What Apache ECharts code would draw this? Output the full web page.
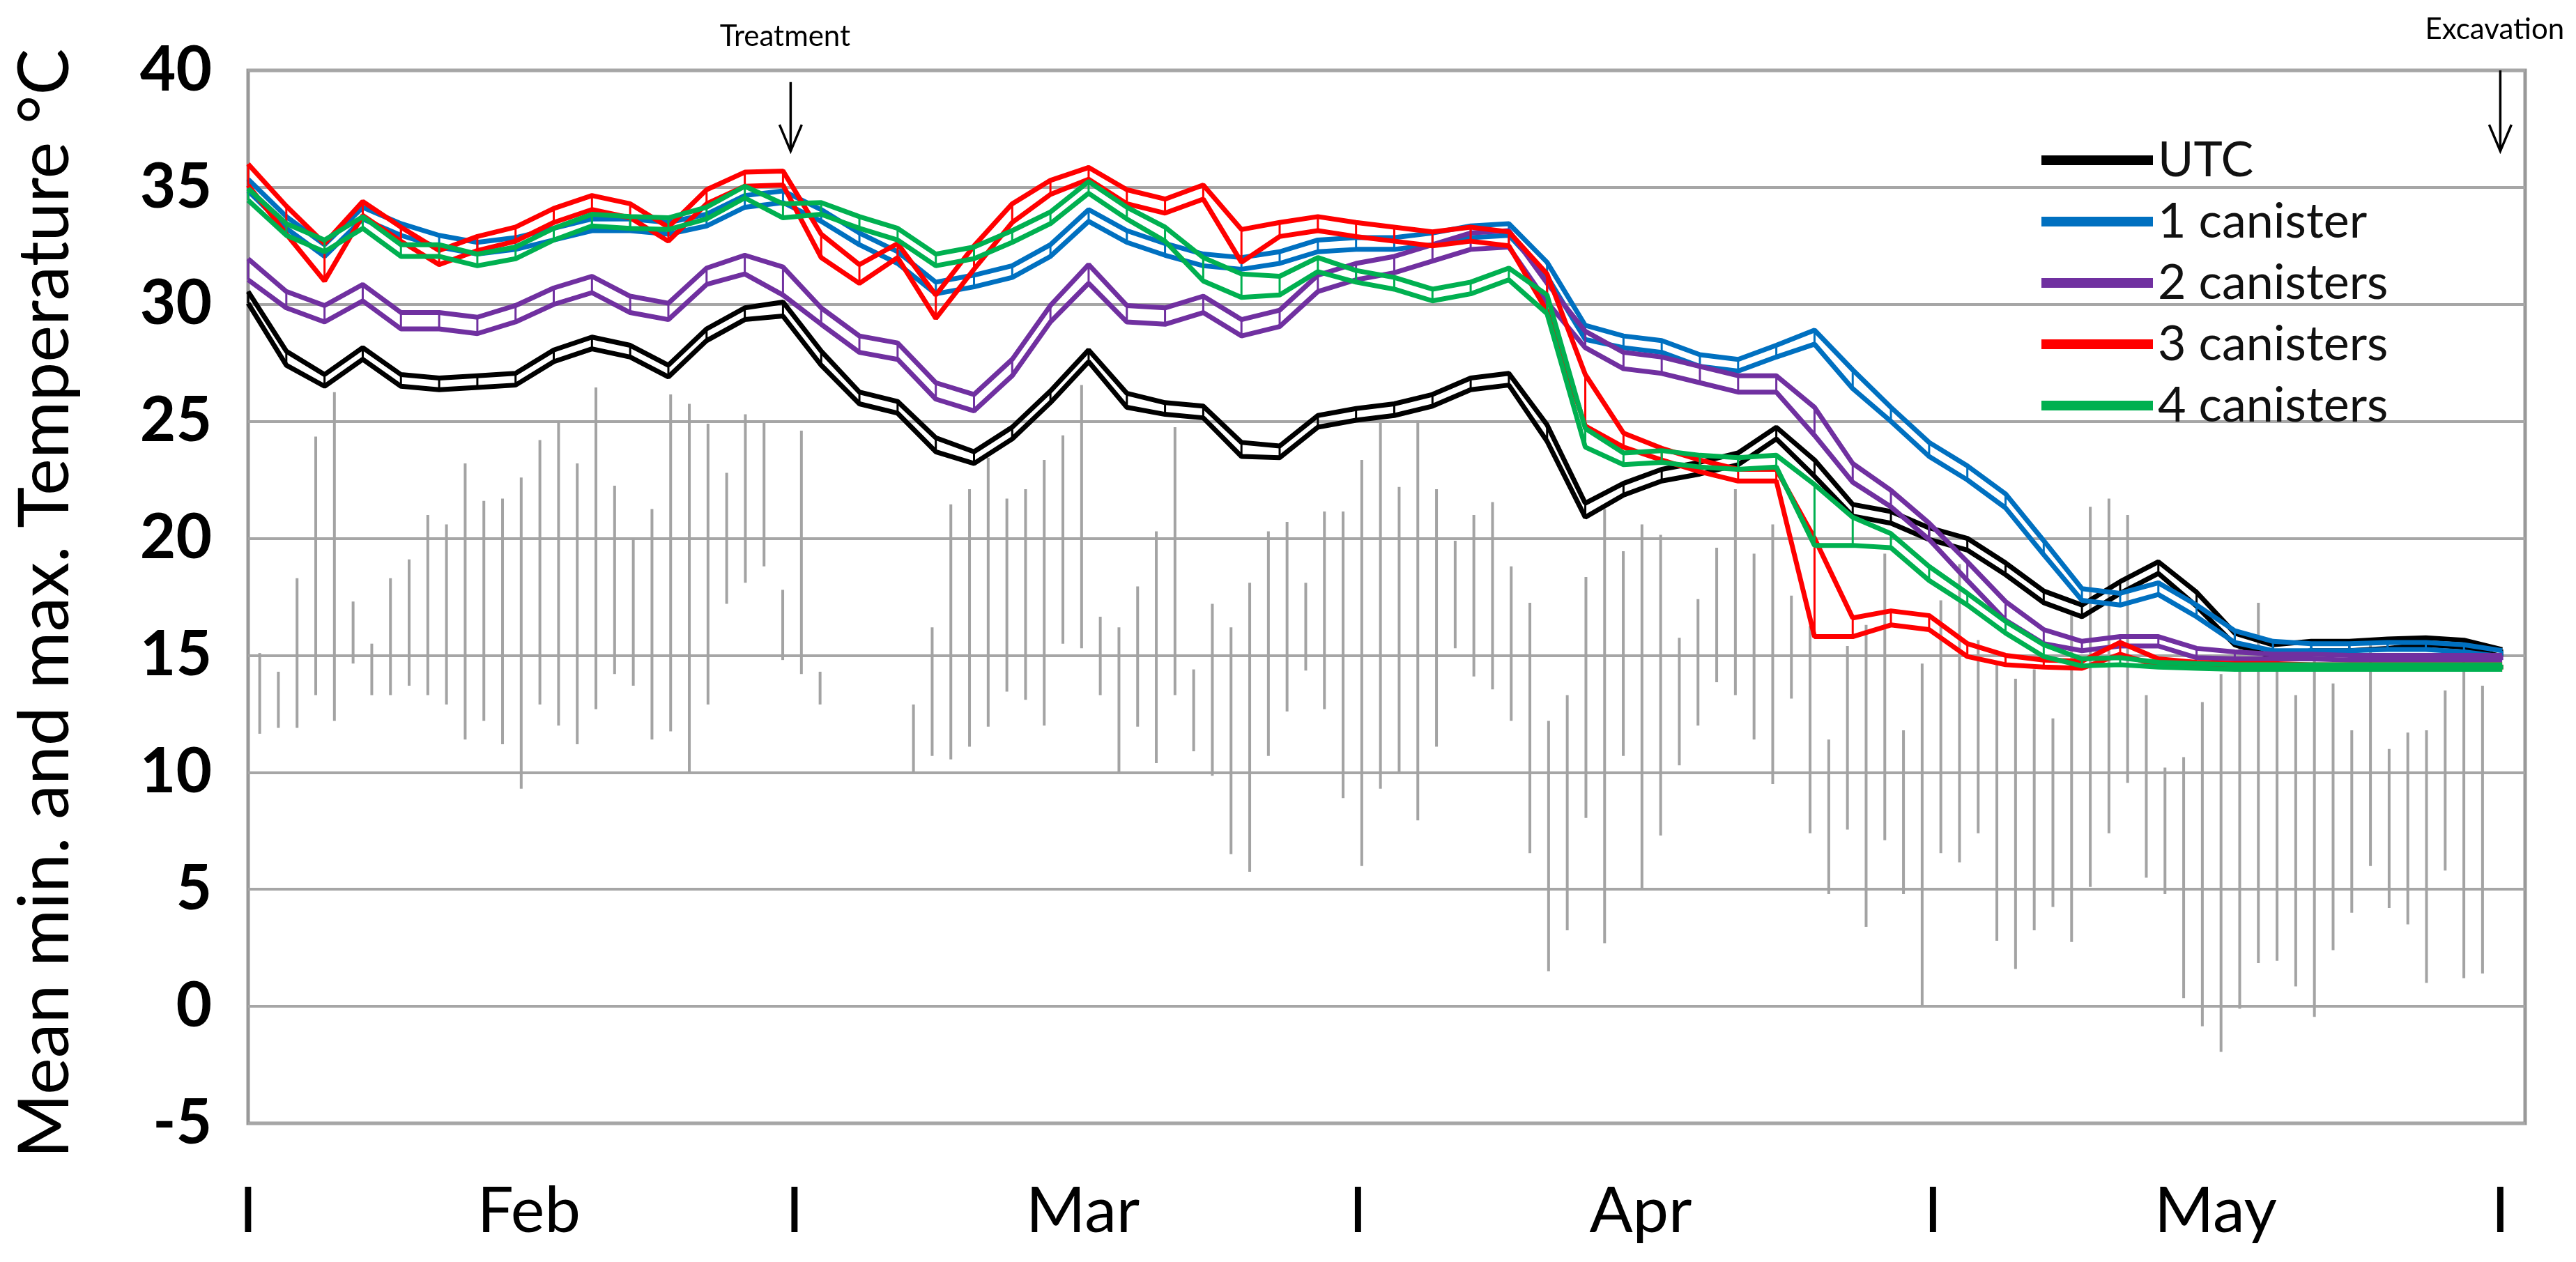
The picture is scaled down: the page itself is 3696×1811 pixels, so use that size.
<!DOCTYPE html>
<html><head><meta charset="utf-8">
<script src="https://cdn.jsdelivr.net/npm/echarts@6/dist/echarts.min.js"></script>
<style>html,body{margin:0;padding:0;background:#fff;}#c{width:3696px;height:1811px;}</style>
</head><body><div id="c"></div>
<script>
// ---------- DATA ----------
const lineDays = [0,2,4,6,8,10,12,14,16,18,20,22,24,26,28,30,32,34,36,38,40,42,44,46,48,50,52,54,56,58,60,62,64,66,68,70,72,74,76,78,80,82,84,86,88,90,92,94,96,98,100,102,104,106,108,110,112,114,116,118];

const utcMax = [30.55,28.0,27.0,28.15,27.0,26.85,26.95,27.05,28.05,28.6,28.25,27.4,28.95,29.85,30.1,28.0,26.25,25.85,24.3,23.7,24.75,26.3,28.05,26.2,25.8,25.65,24.1,23.95,25.25,25.55,25.75,26.15,26.85,27.05,24.85,21.5,22.35,22.95,23.25,23.65,24.75,23.35,21.45,21.15,20.45,20.0,18.95,17.75,17.15,18.15,19.0,17.7,15.95,15.45,15.6,15.6,15.7,15.75,15.65,15.25];
const utcMin = [30.05,27.4,26.5,27.65,26.5,26.35,26.45,26.55,27.55,28.1,27.75,26.9,28.45,29.35,29.5,27.4,25.75,25.35,23.7,23.2,24.25,25.8,27.55,25.6,25.3,25.15,23.5,23.45,24.75,25.05,25.25,25.65,26.35,26.55,24.15,20.9,21.85,22.45,22.75,23.15,24.25,22.65,20.95,20.65,19.95,19.5,18.45,17.25,16.65,17.65,18.5,17.1,15.45,14.95,15.2,15.2,15.3,15.45,15.35,14.95];

const can1Max = [35.35,33.75,32.55,34.15,33.45,32.95,32.65,32.85,33.25,33.65,33.65,33.5,33.85,34.65,34.85,34.05,33.05,32.25,30.95,31.25,31.65,32.55,34.05,33.15,32.6,32.15,32.0,32.25,32.75,32.85,32.85,33.05,33.35,33.45,31.8,29.1,28.65,28.45,27.85,27.65,28.25,28.9,27.2,25.6,24.1,23.1,21.9,19.9,17.85,17.65,18.1,17.15,16.05,15.6,15.5,15.5,15.55,15.55,15.45,15.2];
const can1Min = [34.85,33.25,32.05,33.65,32.95,32.45,32.15,32.35,32.75,33.15,33.15,33.0,33.35,34.15,34.35,33.55,32.55,31.75,30.45,30.75,31.15,32.05,33.55,32.65,32.1,31.65,31.5,31.75,32.25,32.35,32.35,32.55,32.85,32.95,31.2,28.5,28.15,27.95,27.35,27.15,27.75,28.3,26.4,25.0,23.5,22.5,21.3,19.3,17.35,17.15,17.6,16.65,15.55,15.2,15.2,15.2,15.25,15.25,15.15,14.95];

const can2Max = [31.95,30.55,29.95,30.85,29.65,29.65,29.45,29.95,30.7,31.2,30.35,30.05,31.55,32.1,31.6,29.85,28.65,28.35,26.65,26.15,27.65,29.95,31.7,29.95,29.85,30.35,29.35,29.75,31.25,31.75,32.05,32.55,33.05,33.15,30.9,28.85,27.95,27.75,27.35,26.95,26.95,25.6,23.2,22.05,20.65,19.0,17.3,16.1,15.6,15.8,15.8,15.3,15.15,15.05,15.05,15.0,15.0,15.0,15.0,15.0];
const can2Min = [31.05,29.85,29.25,30.15,28.95,28.95,28.75,29.25,30.0,30.5,29.65,29.35,30.85,31.3,30.4,29.15,27.95,27.65,25.95,25.45,26.95,29.25,30.9,29.25,29.15,29.65,28.65,29.05,30.55,31.05,31.35,31.85,32.35,32.45,30.1,28.15,27.25,27.05,26.65,26.25,26.25,24.4,22.4,21.35,19.95,18.2,16.5,15.5,15.2,15.4,15.4,14.9,14.85,14.85,14.85,14.8,14.8,14.8,14.8,14.8];

const can3Max = [36.0,34.2,32.6,34.4,33.3,32.3,32.9,33.3,34.1,34.65,34.3,33.3,34.9,35.65,35.7,33.0,31.7,32.6,30.4,32.5,34.3,35.3,35.85,34.9,34.5,35.1,33.2,33.5,33.75,33.5,33.3,33.1,33.3,33.1,31.3,27.0,24.5,23.85,23.35,22.95,22.95,20.0,16.6,16.9,16.7,15.5,15.0,14.8,14.75,15.55,14.85,14.7,14.65,14.65,14.6,14.6,14.6,14.6,14.6,14.6];
const can3Min = [35.1,33.0,31.0,33.8,32.7,31.7,32.3,32.7,33.5,34.05,33.7,32.7,34.3,35.05,35.1,32.0,30.9,32.0,29.4,31.5,33.5,34.7,35.35,34.3,33.9,34.5,31.8,32.9,33.15,32.9,32.7,32.5,32.7,32.5,29.7,24.8,23.9,23.35,22.85,22.45,22.45,15.8,15.8,16.3,16.1,14.95,14.6,14.5,14.45,15.05,14.55,14.5,14.45,14.45,14.4,14.4,14.4,14.4,14.4,14.4];

const can4Max = [34.95,33.45,32.75,33.75,32.55,32.55,32.15,32.45,33.25,33.85,33.75,33.7,34.15,35.05,34.3,34.35,33.75,33.25,32.15,32.45,33.15,33.95,35.25,34.15,33.3,32.0,31.3,31.2,32.0,31.45,31.15,30.65,30.95,31.55,30.4,24.7,23.65,23.75,23.55,23.45,23.55,22.3,20.9,20.2,18.8,17.65,16.45,15.45,14.85,14.9,14.7,14.65,14.6,14.6,14.6,14.6,14.6,14.6,14.6,14.6];
const can4Min = [34.45,32.95,32.25,33.25,32.05,32.05,31.65,31.95,32.75,33.35,33.25,33.2,33.65,34.55,33.7,33.85,33.25,32.75,31.65,31.95,32.65,33.45,34.75,33.65,32.7,31.0,30.3,30.4,31.4,30.95,30.65,30.15,30.45,31.05,29.6,23.9,23.15,23.25,23.05,22.95,23.05,19.7,19.7,19.6,18.2,17.15,15.95,14.95,14.55,14.6,14.5,14.45,14.4,14.4,14.4,14.4,14.4,14.4,14.4,14.4];

// daily air temperature range (grey bars)
const barDays = [0,1,2,3,4,5,6,7,8,9,10,11,12,13,14,15,16,17,18,19,20,21,22,23,24,25,26,27,28,29,30,31,32,33,34,35,36,37,38,39,40,41,42,43,44,45,46,47,48,49,50,51,52,53,54,55,56,57,58,59,60,61,62,63,64,65,66,67,68,69,70,71,72,73,74,75,76,77,78,79,80,81,82,83,84,85,86,87,88,89,90,91,92,93,94,95,96,97,98,99,100,101,102,103,104,105,106,107,108,109,110,111,112,113,114,115,116,117,118,119];
const barLow = [11.65,11.9,11.9,13.3,12.2,14.65,13.3,13.3,13.7,13.3,12.9,11.4,12.2,11.2,9.3,12.9,12.0,11.2,12.7,14.2,13.7,11.4,11.75,10.0,12.9,17.2,18.1,18.8,14.8,14.2,12.9,null,null,null,null,10.0,10.7,10.55,11.1,11.95,13.45,13.1,12.0,15.5,15.3,13.3,10.0,11.95,10.4,13.3,10.9,9.85,6.5,5.75,10.7,12.6,14.35,12.7,8.9,6.0,9.3,10.0,7.95,11.1,15.3,14.1,13.55,12.2,6.55,1.5,3.25,8.05,2.7,10.7,5.05,7.3,10.3,12.0,13.85,13.3,11.4,9.5,13.15,7.4,4.8,7.55,3.4,7.1,4.8,0.0,6.55,6.15,7.4,2.8,1.6,3.25,4.25,2.75,5.1,7.4,9.55,5.5,4.8,0.35,-0.85,-1.95,-0.1,1.85,1.95,0.85,-0.45,2.4,4.0,6.0,4.2,3.5,1.0,5.8,1.2,1.4];
const barHigh = [15.1,14.3,18.3,24.35,26.25,17.3,15.5,18.3,19.1,21.0,20.6,23.2,21.6,21.7,22.6,24.2,25.0,23.2,26.45,22.25,20.0,21.25,26.15,25.75,24.9,22.8,25.3,24.95,17.8,24.6,14.3,null,null,null,null,12.9,16.2,21.45,22.1,23.45,21.7,22.1,23.35,24.4,26.55,16.65,16.2,17.95,20.3,24.75,14.4,17.2,16.2,18.1,20.3,20.7,18.1,21.15,21.15,23.35,25.0,22.2,25.05,22.1,19.9,21.0,21.55,18.8,17.25,12.2,13.3,18.35,21.25,19.45,20.6,20.15,15.75,17.4,19.6,22.1,19.35,20.6,17.55,16.25,11.4,15.4,16.3,19.35,11.8,14.65,17.35,18.9,15.65,14.7,14.0,14.4,12.3,16.8,21.35,21.7,21.0,13.3,10.2,10.65,13.0,14.2,15.45,17.25,14.5,13.3,15.05,13.8,11.8,15.5,11.0,11.7,11.8,13.5,14.8,13.7];

// axis tick labels (positions on the line axis, in days)
const xTickPos = [0, 14.7, 28.6, 43.7, 58.1, 72.9, 88.2, 103.0, 117.9];
const xTickText = ['I','Feb','I','Mar','I','Apr','I','May','I'];

// annotations
const annotX = [28.4, 117.9];
const annotTop = [39.5, 40.0];
const annotBottom = [36.55, 36.55];
const annotText = ['Treatment', 'Excavation'];

const seriesNames = ['UTC','1 canister','2 canisters','3 canisters','4 canisters'];
const seriesColors = ['#000000','#0070C0','#7030A0','#FF0000','#00B050'];
const seriesMax = [utcMax, can1Max, can2Max, can3Max, can4Max];
const seriesMin = [utcMin, can1Min, can2Min, can3Min, can4Min];

// ---------- CHART ----------
const FONT = 'Lato, "Open Sans", sans-serif';
const chart = echarts.init(document.getElementById('c'), null, {renderer: 'canvas'});

const series = [];
series.push({
  type: 'custom', name: 'air', xAxisIndex: 0, yAxisIndex: 0, silent: true, z: 1,
  data: barDays.map((d, i) => [d, barLow[i], barHigh[i]]).filter(r => r[1] != null),
  encode: {x: 0, y: [1, 2]},
  renderItem: function (params, api) {
    const x = api.value(0);
    const p1 = api.coord([x, api.value(1)]);
    const p2 = api.coord([x, api.value(2)]);
    return {type: 'line', shape: {x1: p1[0], y1: p1[1], x2: p2[0], y2: p2[1]},
            style: {stroke: '#a3a3a3', lineWidth: 4}};
  }
});
seriesNames.forEach((name, i) => {
  [seriesMax[i], seriesMin[i]].forEach(arr => {
    series.push({
      type: 'line', name: name, xAxisIndex: 1, yAxisIndex: 0,
      data: lineDays.map((d, j) => [d, arr[j]]),
      symbol: 'none', smooth: false, z: 3 + i,
      lineStyle: {color: seriesColors[i], width: 7},
      itemStyle: {color: seriesColors[i]},
      emphasis: {disabled: true}
    });
  });
  // rungs between the min and max lines
  series.push({
    type: 'custom', name: name + ' range', xAxisIndex: 1, yAxisIndex: 0, silent: true, z: 3 + i,
    data: lineDays.map((d, j) => [d, seriesMin[i][j], seriesMax[i][j]]),
    encode: {x: 0, y: [1, 2]},
    renderItem: function (params, api) {
      const x = api.value(0);
      const p1 = api.coord([x, api.value(1)]);
      const p2 = api.coord([x, api.value(2)]);
      return {type: 'line', shape: {x1: p1[0], y1: p1[1], x2: p2[0], y2: p2[1]},
              style: {stroke: seriesColors[i], lineWidth: 3}};
    }
  });
});

const option = {
  animation: false,
  backgroundColor: '#ffffff',
  grid: {left: 356, top: 101, width: 3267, height: 1511, show: true,
         borderColor: '#999999', borderWidth: 5, backgroundColor: 'transparent'},
  legend: {
    data: seriesNames, orient: 'vertical', left: 2924, top: 190,
    icon: 'rect', itemWidth: 160, itemHeight: 14, itemGap: 18,
    textStyle: {fontFamily: FONT, fontSize: 70, lineHeight: 66, color: '#111', padding: [0,0,0,2]},
    selectedMode: false
  },
  xAxis: [
    {type: 'value', min: -0.62, max: 121.28, show: false},
    {type: 'value', min: 0, max: 119.2, position: 'bottom',
     axisLine: {show: false}, axisTick: {show: false}, splitLine: {show: false},
     axisLabel: {customValues: xTickPos, fontFamily: FONT, fontSize: 92, color: '#000', margin: 80,
       formatter: function (v) { const k = xTickPos.indexOf(v); return k >= 0 ? xTickText[k] : ''; }}}
  ],
  yAxis: {
    type: 'value', min: -5, max: 40, interval: 5,
    axisLine: {show: false}, axisTick: {show: false},
    splitLine: {show: true, lineStyle: {color: '#a6a6a6', width: 4}},
    axisLabel: {fontFamily: FONT, fontWeight: 'bold', fontSize: 89, color: '#000', margin: 52}
  },
  series: series
};
chart.setOption(option);

// ---------- ANNOTATIONS ----------
const graphics = [];
graphics.push({
  type: 'text', x: 66, y: 866, rotation: Math.PI / 2,
  style: {text: 'Mean min. and max. Temperature \u00B0C', fontFamily: FONT, fontSize: 100, fill: '#000',
          align: 'center', verticalAlign: 'middle', textAlign: 'center', textVerticalAlign: 'middle'}
});
const textY = [52, 42];
annotX.forEach((x, i) => {
  const t = chart.convertToPixel({xAxisIndex: 1, yAxisIndex: 0}, [x, annotTop[i]]);
  const b = chart.convertToPixel({xAxisIndex: 1, yAxisIndex: 0}, [x, annotBottom[i]]);
  graphics.push({type: 'line', shape: {x1: t[0], y1: t[1], x2: b[0], y2: b[1]},
                 style: {stroke: '#000', lineWidth: 3.5}});
  graphics.push({type: 'polyline', shape: {points: [[b[0] - 16, b[1] - 38], [b[0], b[1]], [b[0] + 16, b[1] - 38]]},
                 style: {stroke: '#000', lineWidth: 3.5, fill: null}});
  graphics.push({type: 'text', x: t[0] - 8, y: textY[i],
                 style: {text: annotText[i], fontFamily: FONT, fontSize: 42, fill: '#000',
                         align: 'center', verticalAlign: 'middle', textAlign: 'center', textVerticalAlign: 'middle'}});
});
chart.setOption({graphic: graphics});
</script>
</body></html>
